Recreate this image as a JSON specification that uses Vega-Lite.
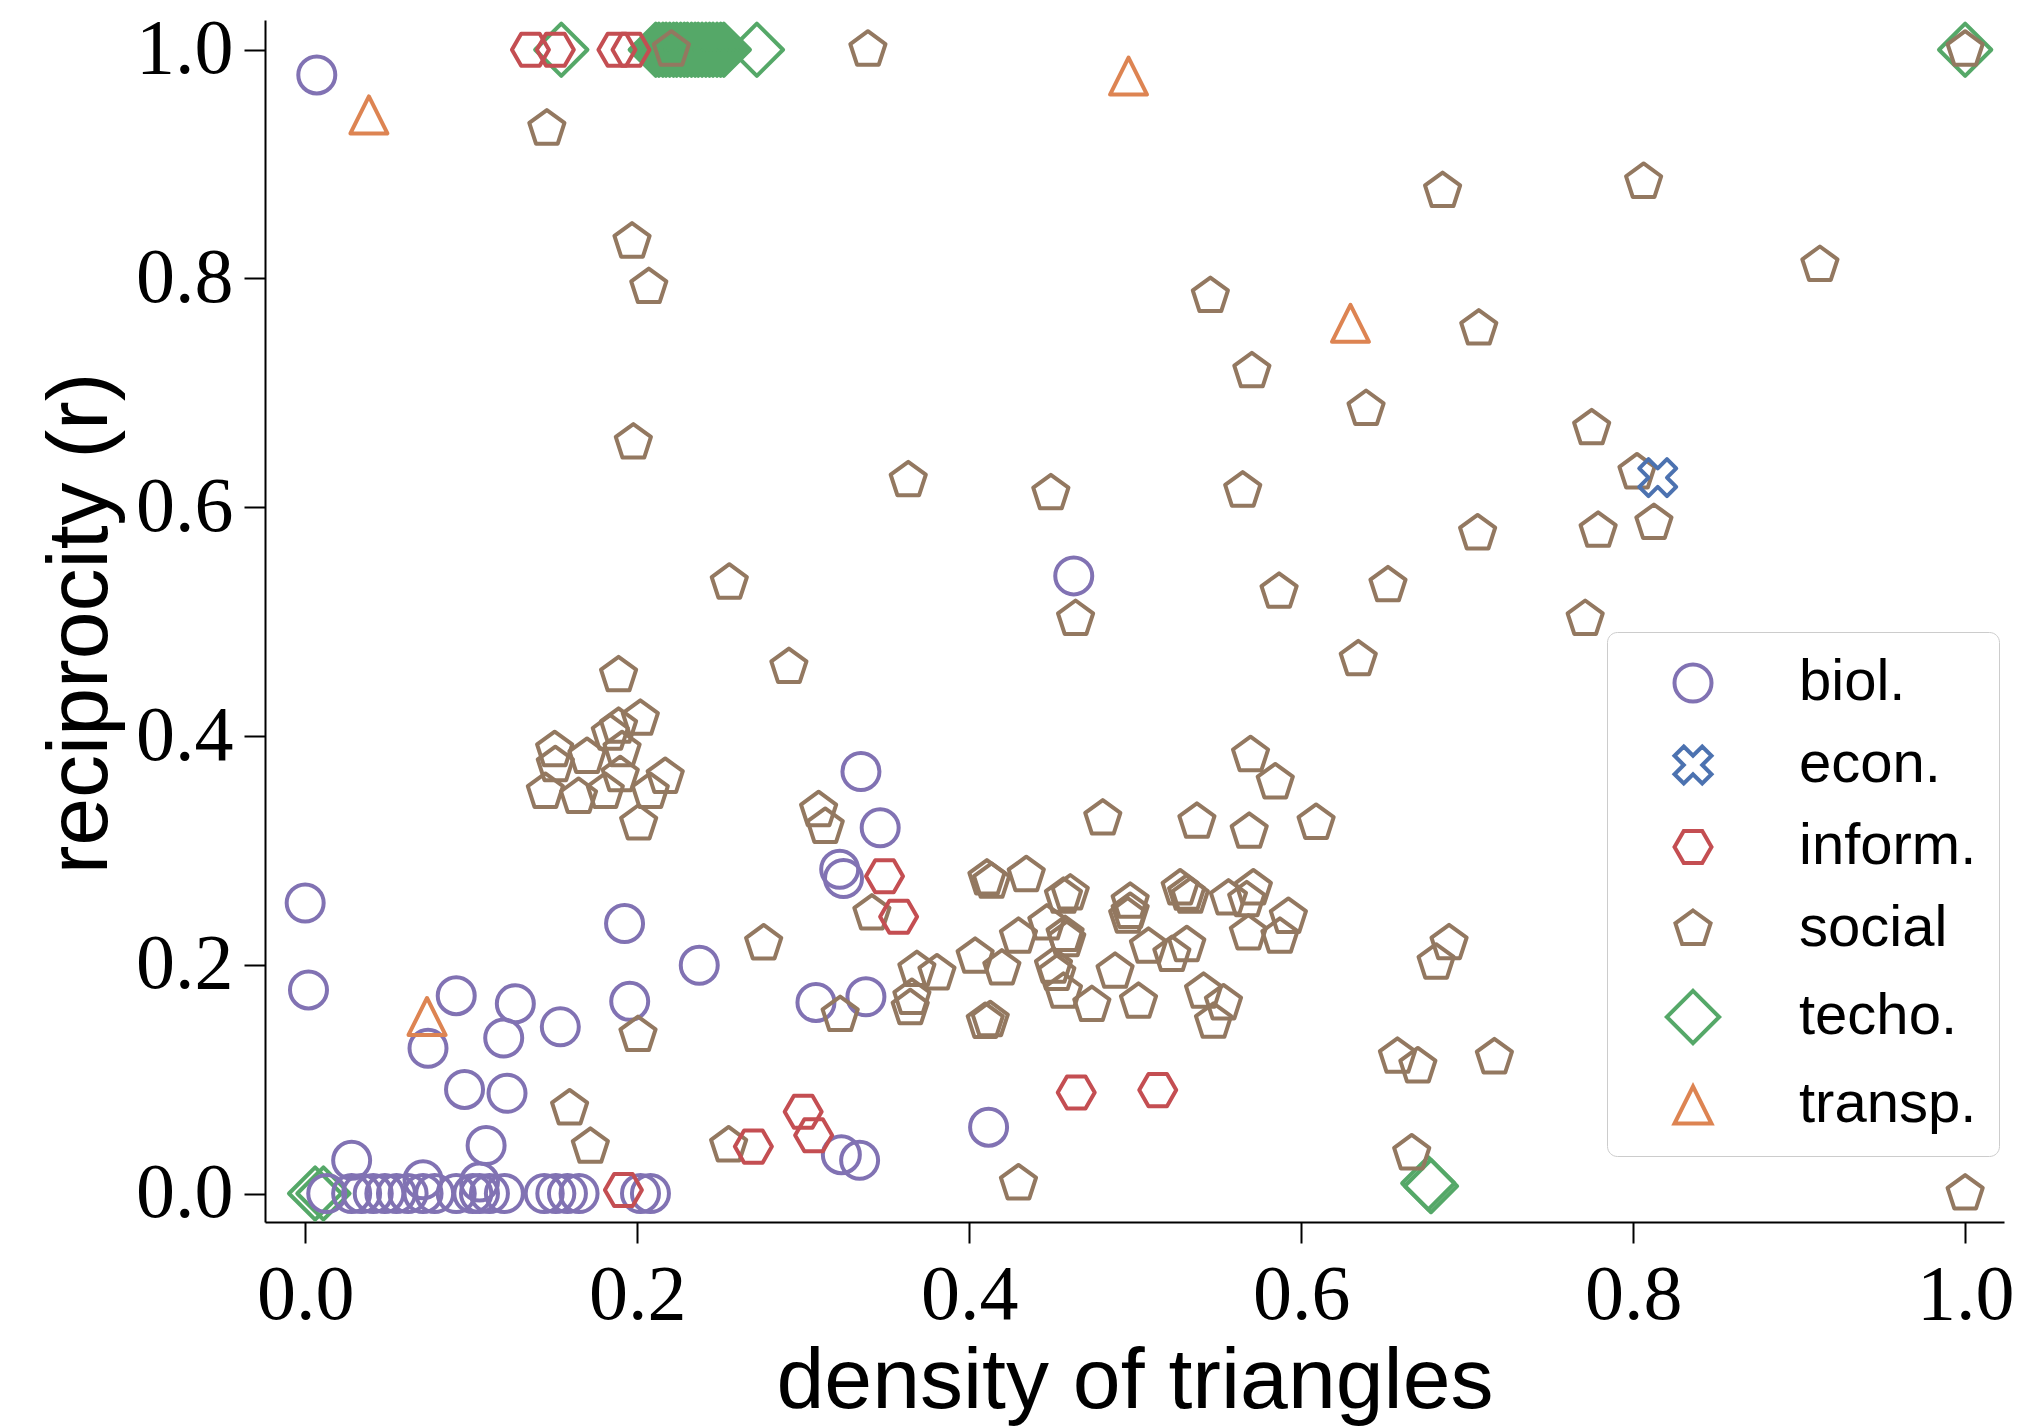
{
  "$schema": "https://vega.github.io/schema/vega-lite/v6.json",
  "autosize": {"type": "none"},
  "padding": {"left": 265, "top": 20, "right": 30, "bottom": 205},
  "width": 1739,
  "height": 1202,
  "background": "white",
  "data": {"values": [
    {"c":"techo.","x":0.1543,"y":1.0},{"c":"techo.","x":0.2721,"y":1.0},
    {"c":"techo.","x":0.2112,"y":1.0},{"c":"techo.","x":0.2131,"y":1.0},{"c":"techo.","x":0.2155,"y":1.0},{"c":"techo.","x":0.2174,"y":1.0},{"c":"techo.","x":0.2196,"y":1.0},{"c":"techo.","x":0.2219,"y":1.0},{"c":"techo.","x":0.2238,"y":1.0},{"c":"techo.","x":0.2262,"y":1.0},{"c":"techo.","x":0.2284,"y":1.0},{"c":"techo.","x":0.2303,"y":1.0},{"c":"techo.","x":0.2327,"y":1.0},{"c":"techo.","x":0.2349,"y":1.0},{"c":"techo.","x":0.2368,"y":1.0},{"c":"techo.","x":0.2391,"y":1.0},{"c":"techo.","x":0.2414,"y":1.0},{"c":"techo.","x":0.2436,"y":1.0},{"c":"techo.","x":0.2457,"y":1.0},{"c":"techo.","x":0.2481,"y":1.0},{"c":"techo.","x":0.2503,"y":1.0},{"c":"techo.","x":0.2522,"y":1.0},
    {"c":"techo.","x":0.006,"y":0.0},{"c":"techo.","x":0.011,"y":0.0},{"c":"techo.","x":0.6766,"y":0.009},{"c":"techo.","x":0.6782,"y":0.0065},{"c":"techo.","x":1.0,"y":1.0},
    {"c":"biol.","x":0.007,"y":0.978},{"c":"biol.","x":0.0,"y":0.254},{"c":"biol.","x":0.002,"y":0.178},{"c":"biol.","x":0.028,"y":0.029},
    {"c":"biol.","x":0.013,"y":0.0},{"c":"biol.","x":0.028,"y":0.0},{"c":"biol.","x":0.034,"y":0.0},{"c":"biol.","x":0.041,"y":0.0},{"c":"biol.","x":0.048,"y":0.0},{"c":"biol.","x":0.055,"y":0.0},{"c":"biol.","x":0.062,"y":0.0},{"c":"biol.","x":0.071,"y":0.0},{"c":"biol.","x":0.078,"y":0.0},{"c":"biol.","x":0.091,"y":0.0},{"c":"biol.","x":0.101,"y":0.0},{"c":"biol.","x":0.105,"y":0.0},{"c":"biol.","x":0.111,"y":0.0},{"c":"biol.","x":0.12,"y":0.0},{"c":"biol.","x":0.144,"y":0.0},{"c":"biol.","x":0.151,"y":0.0},{"c":"biol.","x":0.158,"y":0.0},{"c":"biol.","x":0.165,"y":0.0},{"c":"biol.","x":0.202,"y":0.0},{"c":"biol.","x":0.208,"y":0.0},
    {"c":"biol.","x":0.071,"y":0.012},{"c":"biol.","x":0.105,"y":0.01},
    {"c":"biol.","x":0.074,"y":0.127},{"c":"biol.","x":0.091,"y":0.173},{"c":"biol.","x":0.096,"y":0.091},{"c":"biol.","x":0.1196,"y":0.136},{"c":"biol.","x":0.1266,"y":0.166},{"c":"biol.","x":0.1216,"y":0.0877},{"c":"biol.","x":0.109,"y":0.042},{"c":"biol.","x":0.1537,"y":0.1457},{"c":"biol.","x":0.1924,"y":0.236},{"c":"biol.","x":0.1955,"y":0.168},{"c":"biol.","x":0.2374,"y":0.1996},{"c":"biol.","x":0.3077,"y":0.167},{"c":"biol.","x":0.322,"y":0.2835},{"c":"biol.","x":0.3243,"y":0.2754},{"c":"biol.","x":0.3348,"y":0.369},{"c":"biol.","x":0.3464,"y":0.3197},{"c":"biol.","x":0.3378,"y":0.172},{"c":"biol.","x":0.323,"y":0.034},{"c":"biol.","x":0.334,"y":0.029},{"c":"biol.","x":0.4117,"y":0.058},{"c":"biol.","x":0.463,"y":0.54},
    {"c":"social","x":0.2206,"y":1.0},{"c":"social","x":0.339,"y":1.0},{"c":"social","x":0.1456,"y":0.931},{"c":"social","x":1.0,"y":1.0},{"c":"social","x":0.1969,"y":0.8322},{"c":"social","x":0.207,"y":0.7925},{"c":"social","x":0.1977,"y":0.6565},
    {"c":"social","x":0.8063,"y":0.8844},{"c":"social","x":0.6852,"y":0.8764},{"c":"social","x":0.9125,"y":0.8118},{"c":"social","x":0.5453,"y":0.7846},{"c":"social","x":0.707,"y":0.7562},{"c":"social","x":0.5703,"y":0.7188},{"c":"social","x":0.6391,"y":0.6859},{"c":"social","x":0.775,"y":0.669},{"c":"social","x":0.3633,"y":0.6236},{"c":"social","x":0.4492,"y":0.6122},{"c":"social","x":0.5648,"y":0.6145},{"c":"social","x":0.8023,"y":0.6304},{"c":"social","x":0.8125,"y":0.5862},{"c":"social","x":0.7063,"y":0.5771},{"c":"social","x":0.7789,"y":0.5794},{"c":"social","x":0.2555,"y":0.534},{"c":"social","x":0.5867,"y":0.5261},{"c":"social","x":0.6523,"y":0.5317},{"c":"social","x":0.4641,"y":0.5023},{"c":"social","x":0.7711,"y":0.5023},{"c":"social","x":0.6344,"y":0.4671},{"c":"social","x":0.2914,"y":0.4603},
    {"c":"social","x":0.1888,"y":0.453},{"c":"social","x":0.1503,"y":0.3876},{"c":"social","x":0.1507,"y":0.3745},{"c":"social","x":0.1698,"y":0.3817},{"c":"social","x":0.1838,"y":0.402},{"c":"social","x":0.1888,"y":0.408},{"c":"social","x":0.2019,"y":0.415},{"c":"social","x":0.1909,"y":0.3876},{"c":"social","x":0.1447,"y":0.3511},{"c":"social","x":0.1647,"y":0.3467},{"c":"social","x":0.1808,"y":0.3511},{"c":"social","x":0.1898,"y":0.3657},{"c":"social","x":0.2169,"y":0.3642},{"c":"social","x":0.2079,"y":0.3511},{"c":"social","x":0.2009,"y":0.3235},
    {"c":"social","x":0.3093,"y":0.3351},{"c":"social","x":0.3133,"y":0.3205},{"c":"social","x":0.3414,"y":0.2448},{"c":"social","x":0.2762,"y":0.2186},{"c":"social","x":0.3223,"y":0.156},{"c":"social","x":0.2005,"y":0.1385},{"c":"social","x":0.1593,"y":0.0744},{"c":"social","x":0.1718,"y":0.0408},{"c":"social","x":0.2551,"y":0.042},
    {"c":"social","x":0.5695,"y":0.3832},{"c":"social","x":0.5844,"y":0.3594},
    {"c":"social","x":0.4805,"y":0.3278},{"c":"social","x":0.5372,"y":0.3249},{"c":"social","x":0.5687,"y":0.3162},{"c":"social","x":0.609,"y":0.324},
    {"c":"social","x":0.3685,"y":0.1953},{"c":"social","x":0.3806,"y":0.1924},{"c":"social","x":0.3655,"y":0.171},{"c":"social","x":0.3645,"y":0.162},
    {"c":"social","x":0.4107,"y":0.2754},{"c":"social","x":0.4135,"y":0.2725},{"c":"social","x":0.4344,"y":0.2783},
    {"c":"social","x":0.4568,"y":0.2594},{"c":"social","x":0.4609,"y":0.2623},{"c":"social","x":0.4468,"y":0.236},
    {"c":"social","x":0.4578,"y":0.2259},{"c":"social","x":0.4588,"y":0.2215},{"c":"social","x":0.4297,"y":0.2244},
    {"c":"social","x":0.4036,"y":0.2069},{"c":"social","x":0.4197,"y":0.1967},{"c":"social","x":0.4508,"y":0.1982},{"c":"social","x":0.4528,"y":0.192},{"c":"social","x":0.4568,"y":0.1763},{"c":"social","x":0.4739,"y":0.1647},{"c":"social","x":0.4879,"y":0.1938},{"c":"social","x":0.502,"y":0.1676},
    {"c":"social","x":0.497,"y":0.255},{"c":"social","x":0.497,"y":0.2462},{"c":"social","x":0.4955,"y":0.242},
    {"c":"social","x":0.508,"y":0.2157},{"c":"social","x":0.5221,"y":0.2084},{"c":"social","x":0.5311,"y":0.2171},
    {"c":"social","x":0.5271,"y":0.2667},{"c":"social","x":0.531,"y":0.262},{"c":"social","x":0.5332,"y":0.2594},
    {"c":"social","x":0.5562,"y":0.2579},{"c":"social","x":0.5712,"y":0.2667},{"c":"social","x":0.5672,"y":0.2564},
    {"c":"social","x":0.5682,"y":0.2273},{"c":"social","x":0.5872,"y":0.2244},{"c":"social","x":0.5923,"y":0.2418},
    {"c":"social","x":0.5412,"y":0.1763},{"c":"social","x":0.5532,"y":0.1662},{"c":"social","x":0.5472,"y":0.1501},
    {"c":"social","x":0.4097,"y":0.15},{"c":"social","x":0.4127,"y":0.1515},{"c":"social","x":0.4297,"y":0.0088},
    {"c":"social","x":0.658,"y":0.1195},{"c":"social","x":0.6703,"y":0.1111},{"c":"social","x":0.6666,"y":0.035},{"c":"social","x":0.6813,"y":0.2018},{"c":"social","x":0.6891,"y":0.2188},{"c":"social","x":0.7164,"y":0.119},{"c":"social","x":1.0,"y":0.0},
    {"c":"inform.","x":0.1357,"y":1.0},{"c":"inform.","x":0.1507,"y":1.0},{"c":"inform.","x":0.1878,"y":1.0},{"c":"inform.","x":0.1963,"y":1.0},{"c":"inform.","x":0.349,"y":0.2774},{"c":"inform.","x":0.3575,"y":0.242},{"c":"inform.","x":0.3,"y":0.0714},{"c":"inform.","x":0.3063,"y":0.051},{"c":"inform.","x":0.27,"y":0.041},{"c":"inform.","x":0.4645,"y":0.0884},{"c":"inform.","x":0.5136,"y":0.0904},{"c":"inform.","x":0.1917,"y":0.003},
    {"c":"econ.","x":0.8148,"y":0.6259},
    {"c":"transp.","x":0.0384,"y":0.943},{"c":"transp.","x":0.496,"y":0.977},{"c":"transp.","x":0.6297,"y":0.7608},{"c":"transp.","x":0.0734,"y":0.1548}
  ]},
  "mark": {"type": "point", "filled": false, "strokeWidth": 4, "size": 1369, "opacity": 1, "strokeJoin": "round"},
  "encoding": {
    "x": {"field": "x", "type": "quantitative",
      "scale": {"domain": [-0.0242, 1.0234], "nice": false, "zero": false},
      "axis": {"title": "density of triangles", "values": [0, 0.2, 0.4, 0.6, 0.8, 1.0], "format": ".1f", "labelPadding": 13, "titleBaseline": "alphabetic", "titleY": 185}},
    "y": {"field": "y", "type": "quantitative",
      "scale": {"domain": [-0.0249, 1.026], "nice": false, "zero": false},
      "axis": {"title": "reciprocity (r)", "values": [0, 0.2, 0.4, 0.6, 0.8, 1.0], "format": ".1f", "labelPadding": 11, "titleBaseline": "alphabetic", "titleX": -159, "titleY": 603}},
    "color": {"field": "c", "type": "nominal",
      "scale": {"domain": ["biol.", "econ.", "inform.", "social", "techo.", "transp."], "range": ["#8172B3", "#4C72B0", "#C44E52", "#937860", "#55A868", "#DD8452"]},
      "legend": {"title": null}},
    "shape": {"field": "c", "type": "nominal",
      "scale": {"domain": ["biol.", "econ.", "inform.", "social", "techo.", "transp."], "range": [
        "circle",
        "M-0.5,-1L0,-0.5L0.5,-1L1,-0.5L0.5,0L1,0.5L0.5,1L0,0.5L-0.5,1L-1,0.5L-0.5,0L-1,-0.5Z",
        "M1,0L0.5,0.866L-0.5,0.866L-1,0L-0.5,-0.866L0.5,-0.866Z",
        "M0,-1L0.951,-0.309L0.588,0.809L-0.588,0.809L-0.951,-0.309Z",
        "M0,-1.414L1.414,0L0,1.414L-1.414,0Z",
        "M0,-1L1,1L-1,1Z"]},
      "legend": {"title": null}}
  },
  "config": {
    "view": {"stroke": null},
    "axis": {"domainColor": "black", "domainWidth": 2, "tickColor": "black", "tickWidth": 2, "tickSize": 21,
      "labelFont": "Liberation Serif", "labelFontSize": 78, "labelColor": "black",
      "titleFont": "Liberation Sans", "titleFontSize": 86, "titleFontWeight": "normal", "titleColor": "black",
      "grid": false, "labelFlush": false, "labelOverlap": false},
    "legend": {"orient": "none", "legendX": 1342, "legendY": 612,
      "fillColor": "rgba(255,255,255,0.8)", "strokeColor": "#cccccc", "cornerRadius": 10, "padding": 22,
      "labelFont": "Liberation Sans", "labelFontSize": 58, "labelColor": "black", "labelLimit": 0,
      "symbolSize": 1369, "symbolStrokeWidth": 4, "symbolOffset": 35, "labelOffset": 77, "rowPadding": 24}
  }
}
